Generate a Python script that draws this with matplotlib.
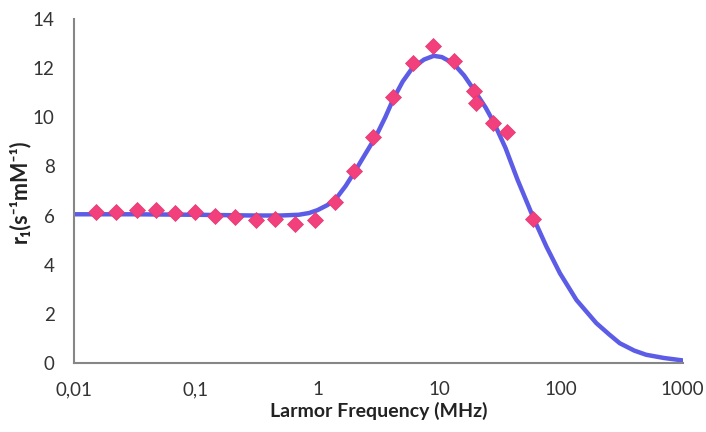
import matplotlib
matplotlib.use('Agg')
import matplotlib.pyplot as plt
from matplotlib.ticker import FixedLocator, FixedFormatter, NullLocator

plt.rcParams['font.family'] = ['Lato', 'DejaVu Sans']

# measured r1 values (markers)
freq_pts = [0.015, 0.022, 0.033, 0.047, 0.068, 0.098, 0.144, 0.21, 0.31, 0.45,
            0.65, 0.95, 1.39, 1.99, 2.87, 4.19, 6.11, 8.9, 13.2, 19.2, 20.2,
            27.4, 35.7, 59]
r1_pts = [6.16, 6.16, 6.23, 6.23, 6.12, 6.16, 5.98, 5.93, 5.82, 5.86,
          5.66, 5.82, 6.56, 7.81, 9.21, 10.81, 12.2, 12.9, 12.3, 11.08, 10.6,
          9.78, 9.41, 5.85]

# fitted curve
freq_fit = [0.01, 0.03, 0.1, 0.3, 0.5, 0.7, 0.85, 1.0, 1.2, 1.4, 1.7, 2.0, 2.5,
            3.0, 3.6, 4.2, 5.0, 6.0, 7.5, 9.0, 10.5, 13, 16, 20, 24, 28, 35,
            44, 60, 76, 98, 134, 195, 250, 304, 400, 501, 700, 1000]
r1_fit = [6.05, 6.05, 6.03, 6.0, 6.0, 6.03, 6.1, 6.22, 6.42, 6.65, 7.2, 7.75,
          8.55, 9.2, 10.0, 10.75, 11.45, 12.0, 12.35, 12.5, 12.45, 12.2, 11.7,
          11.0, 10.4, 9.8, 8.75, 7.45, 5.85, 4.73, 3.65, 2.56, 1.62, 1.15,
          0.80, 0.5, 0.33, 0.2, 0.1]

xticks = [0.01, 0.1, 1, 10, 100, 1000]
xtick_labels = ['0,01', '0,1', '1', '10', '100', '1000']
yticks = [0, 2, 4, 6, 8, 10, 12, 14]

fig = plt.figure(figsize=(7.06, 4.32), dpi=100)
ax = fig.add_axes([0.105, 0.160, 0.862, 0.796])

ax.plot(freq_fit, r1_fit, '-', color='#5C5CE6', lw=3.2, solid_capstyle='round', zorder=2)
ax.plot(freq_pts, r1_pts, 'D', color='#F2407C', ms=8.5, mec='#E8356F', mew=0.5,
        ls='none', zorder=3)

ax.set_xscale('log')
ax.set_xlim(0.01, 1000)
ax.set_ylim(0, 14)
ax.xaxis.set_major_locator(FixedLocator(xticks))
ax.xaxis.set_major_formatter(FixedFormatter(xtick_labels))
ax.xaxis.set_minor_locator(NullLocator())
ax.set_yticks(yticks)

ax.tick_params(axis='both', length=0, labelsize=13.5, colors='#333333')
ax.tick_params(axis='x', pad=13)
ax.tick_params(axis='y', pad=14)

for s in ['top', 'right']:
    ax.spines[s].set_visible(False)
for s in ['left', 'bottom']:
    ax.spines[s].set_color('#868686')
    ax.spines[s].set_linewidth(1.5)

ax.set_xlabel('Larmor Frequency (MHz)', fontsize=14, fontweight='bold',
              color='#222222', labelpad=3)
ax.set_ylabel('r\u2081(s\u207b\u00b9mM\u207b\u00b9)', fontsize=15.5, fontweight='bold',
              color='#222222', labelpad=2)

fig.savefig('out.png', dpi=100, facecolor='white')
